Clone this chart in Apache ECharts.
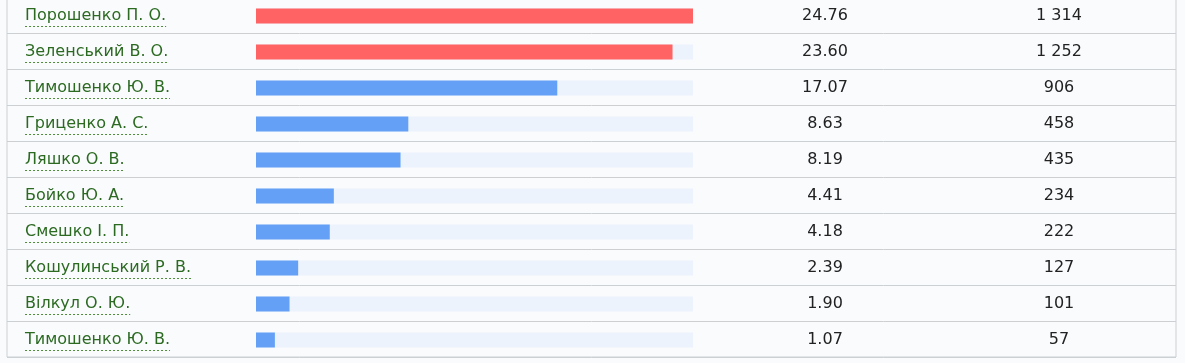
<!DOCTYPE html>
<html>
<head>
<meta charset="utf-8">
<script src="https://cdn.jsdelivr.net/npm/echarts@6/dist/echarts.min.js"></script>
<style>
html,body{margin:0;padding:0;background:#f9fbfd;overflow:hidden;}
#chart{width:1185px;height:366px;margin-top:-3px;}
</style>
</head>
<body>
<div id="chart"></div>
<script>
const names = ['Порошенко П. О.', 'Зеленський В. О.', 'Тимошенко Ю. В.', 'Гриценко А. С.', 'Ляшко О. В.', 'Бойко Ю. А.', 'Смешко І. П.', 'Кошулинський Р. В.', 'Вілкул О. Ю.', 'Тимошенко Ю. В.'];
const percents = [24.76, 23.60, 17.07, 8.63, 8.19, 4.41, 4.18, 2.39, 1.90, 1.07];
const votes = [1314, 1252, 906, 458, 435, 234, 222, 127, 101, 57];
const leaders = [true, true, false, false, false, false, false, false, false, false];

const FONT = 'DejaVu Sans';
const FS = 16;
const fmtVotes = v => String(v).replace(/\B(?=(\d{3})+(?!\d))/g, ' ');
const fmtPct = v => v.toFixed(2);

const cv = document.createElement('canvas').getContext('2d');
cv.font = FS + 'px "' + FONT + '"';
const nameWidths = names.map(n => cv.measureText(n).width);

const labelBase = {fontSize: FS, fontFamily: FONT, padding: [2, 0, 0, 0]};

const chart = echarts.init(document.getElementById('chart'));
chart.setOption({
  animation: false,
  backgroundColor: '#f9fbfd',
  grid: [
    {left: 7, right: 9, top: 0, bottom: 6, show: true, borderColor: '#cdd0d3', borderWidth: 1, backgroundColor: 'transparent'},
    {left: 256, right: 492, top: 1, bottom: 5}
  ],
  xAxis: [
    {gridIndex: 0, type: 'value', show: false, min: 0, max: 1},
    {gridIndex: 1, type: 'value', show: false, min: 0, max: Math.max(...percents)}
  ],
  yAxis: [
    {gridIndex: 0, type: 'category', data: names, inverse: true,
     axisLine: {show: false}, axisTick: {show: false}, axisLabel: {show: false},
     splitLine: {show: true, lineStyle: {color: '#cdd0d3', width: 1}}},
    {gridIndex: 1, type: 'category', data: names, inverse: true, position: 'left',
     axisLine: {show: false}, axisTick: {show: false}, splitLine: {show: false},
     axisLabel: Object.assign({margin: 231, align: 'left', color: '#2c6a22'}, labelBase)},
    {gridIndex: 1, type: 'category', data: percents.map(fmtPct), inverse: true, position: 'right',
     axisLine: {show: false}, axisTick: {show: false}, splitLine: {show: false},
     axisLabel: Object.assign({margin: 132, align: 'center', color: '#222'}, labelBase)},
    {gridIndex: 1, type: 'category', data: votes.map(fmtVotes), inverse: true, position: 'right',
     axisLine: {show: false}, axisTick: {show: false}, splitLine: {show: false},
     axisLabel: Object.assign({margin: 366, align: 'center', color: '#222'}, labelBase)}
  ],
  series: [
    {
      type: 'bar', xAxisIndex: 1, yAxisIndex: 1, barWidth: 15,
      showBackground: true, backgroundStyle: {color: '#edf3fd'},
      data: percents.map((v, i) => ({value: v, itemStyle: {color: leaders[i] ? '#ff6363' : '#64a1f6'}}))
    },
    {
      type: 'custom', xAxisIndex: 1, yAxisIndex: 1, clip: false, silent: true,
      data: names.map((n, i) => [0, i]),
      renderItem: function (params, api) {
        const i = api.value(1);
        const y = Math.round(api.coord([0, i])[1]) + 10.5;
        const x0 = 25;
        return {
          type: 'line',
          shape: {x1: x0, y1: y, x2: x0 + nameWidths[i], y2: y},
          style: {stroke: '#4f8f3a', lineWidth: 1, lineDash: [2, 2]}
        };
      }
    }
  ]
});
</script>
</body>
</html>
